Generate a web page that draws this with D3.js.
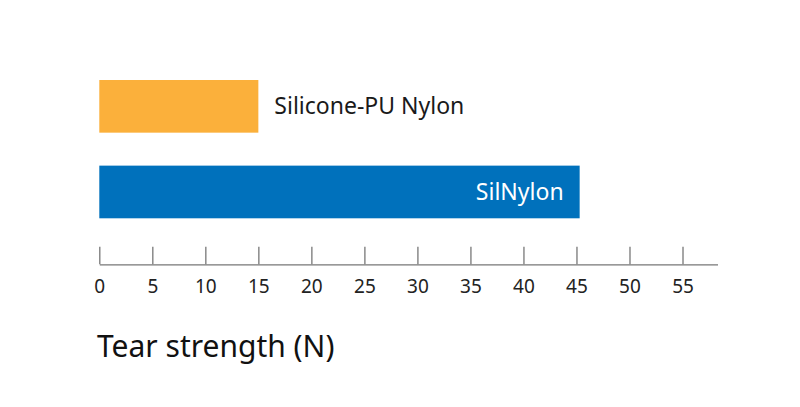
<!DOCTYPE html>
<html><head><meta charset="utf-8">
<script src="https://cdn.jsdelivr.net/npm/d3@7"></script>
<style>body{margin:0;background:#fff}svg{display:block}</style>
</head><body>
<svg id="c" width="800" height="407"></svg>
<script>
const categories = ["Silicone-PU Nylon", "SilNylon"];
const values = [15, 45.3];
const colors = ["#FBB03B", "#0071BC"];
const tickValues = [0, 5, 10, 15, 20, 25, 30, 35, 40, 45, 50, 55];
const axisTitle = "Tear strength (N)";

const svg = d3.select("#c");
const font = "'Noto Sans', sans-serif";
const x = d3.scaleLinear().domain([0, 58.3]).range([99.3, 717.5]);
const y = d3.scaleBand().domain(categories).range([80, 218.3]).paddingInner(0.385);

svg.selectAll("rect.bar").data(categories).join("rect")
  .attr("class", "bar")
  .attr("x", x(0)).attr("y", d => y(d))
  .attr("width", (d, i) => x(values[i]) - x(0))
  .attr("height", y.bandwidth())
  .attr("fill", (d, i) => colors[i]);

// labels
svg.selectAll("text.lab").data(categories).join("text")
  .attr("class", "lab")
  .attr("x", (d, i) => i === 0 ? x(values[i]) + 16 : x(values[i]) - 16)
  .attr("y", d => y(d) + y.bandwidth() / 2)
  .attr("dy", "0.35em")
  .attr("text-anchor", (d, i) => i === 0 ? "start" : "end")
  .attr("fill", (d, i) => i === 0 ? "#1a1a1a" : "#ffffff")
  .style("font-family", font).style("font-size", "23px")
  .text(d => d);

const axis = d3.axisBottom(x).tickValues(tickValues).tickSize(0).tickPadding(15).tickFormat(d3.format("d"));
const g = svg.append("g").attr("transform", "translate(0,264.3)").call(axis);
g.select(".domain").attr("stroke", "#777").attr("stroke-width", 1.3);
g.selectAll(".tick line").remove();
g.selectAll(".tick").append("line").attr("y1", 0).attr("y2", -17.6).attr("stroke", "#777").attr("stroke-width", 1.3);
g.selectAll(".tick text").attr("fill", "#222").style("font-family", font).style("font-size", "19px");

svg.append("text").attr("x", 97).attr("y", 357)
  .attr("fill", "#111").style("font-family", font).style("font-size", "30px")
  .text(axisTitle);
</script>
</body></html>
